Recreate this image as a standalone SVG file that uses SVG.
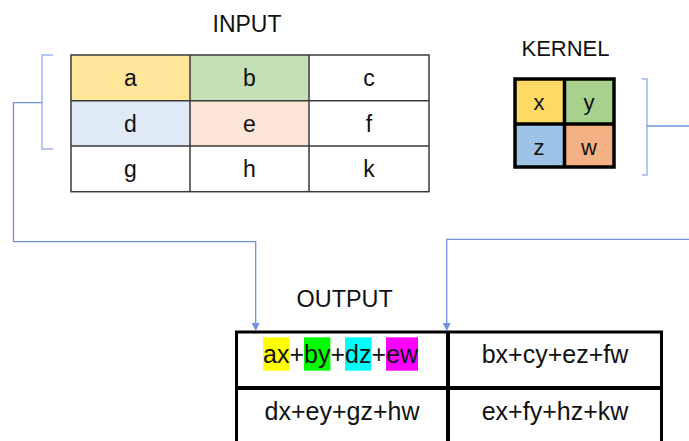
<svg xmlns="http://www.w3.org/2000/svg" width="689" height="441" viewBox="0 0 689 441">
  <style>
    .t { font-family: "Liberation Sans", Arial, sans-serif; fill: #111; text-anchor: middle; }
    .cell { font-size: 23px; }
    .title { font-size: 23px; }
    .grid { fill: none; stroke: #3a3a3a; stroke-width: 1.5; }
    .thick { fill: none; stroke: #000; stroke-width: 3.5; }
    .conn { fill: none; stroke: #6f92d8; stroke-width: 1.3; }
    .brace { fill: none; stroke: #9fb8e8; stroke-width: 1.5; }
  </style>
  <defs>
    <marker id="arrow" markerUnits="userSpaceOnUse" markerWidth="10" markerHeight="10" refX="8" refY="5" orient="auto">
      <path d="M0,1 L8,5 L0,9 Z" fill="#6f92d8"/>
    </marker>
  </defs>

  <rect width="689" height="441" fill="#fff"/>

  <!-- titles -->
  <text class="t title" x="247" y="32">INPUT</text>
  <text class="t title" x="565.5" y="56" style="font-size:22px">KERNEL</text>
  <text class="t title" x="344.7" y="306.5" style="font-size:23.4px">OUTPUT</text>

  <!-- input matrix -->
  <g id="input">
    <rect x="71" y="55" width="119" height="45.7" fill="#ffe699"/>
    <rect x="190" y="55" width="119" height="45.7" fill="#c5e0b4"/>
    <rect x="71" y="100.7" width="119" height="45.3" fill="#deebf7"/>
    <rect x="190" y="100.7" width="119" height="45.3" fill="#fbe5d6"/>
    <rect class="grid" x="71" y="55" width="358" height="136.7"/>
    <path class="grid" d="M190,55 V191.7 M309,55 V191.7 M71,100.7 H429 M71,146 H429"/>
    <text class="t cell" x="130.5" y="86">a</text>
    <text class="t cell" x="249.5" y="86">b</text>
    <text class="t cell" x="369" y="86">c</text>
    <text class="t cell" x="130.5" y="132">d</text>
    <text class="t cell" x="249.5" y="132">e</text>
    <text class="t cell" x="369" y="132">f</text>
    <text class="t cell" x="130.5" y="177">g</text>
    <text class="t cell" x="249.5" y="177">h</text>
    <text class="t cell" x="369" y="177">k</text>
  </g>

  <!-- kernel -->
  <g id="kernel">
    <rect x="515" y="79" width="49.5" height="45" fill="#ffd966"/>
    <rect x="564.5" y="79" width="49.5" height="45" fill="#a9d18e"/>
    <rect x="515" y="124" width="49.5" height="43" fill="#9dc3e6"/>
    <rect x="564.5" y="124" width="49.5" height="43" fill="#f4b183"/>
    <rect class="thick" x="515" y="79" width="99" height="88"/>
    <path class="thick" d="M564.5,79 V167 M515,124 H614"/>
    <text class="t cell" x="539" y="110" style="font-size:22px">x</text>
    <text class="t cell" x="589" y="110" style="font-size:22px">y</text>
    <text class="t cell" x="539" y="155" style="font-size:22px">z</text>
    <text class="t cell" x="589" y="155" style="font-size:22px">w</text>
  </g>

  <!-- output matrix -->
  <g id="output">
    <rect x="263" y="337.3" width="26.4" height="33.4" fill="#ffff00"/>
    <rect x="304" y="337.3" width="26.4" height="33.4" fill="#00ff00"/>
    <rect x="345" y="337.3" width="26.4" height="33.4" fill="#00ffff"/>
    <rect x="386" y="337.3" width="32" height="33.4" fill="#ff00ff"/>
    <rect class="thick" x="236.5" y="332" width="425" height="140" style="stroke-width:3"/>
    <path class="thick" d="M448,332 V441 M236.5,388 H661.5" style="stroke-width:4"/>
    <text class="t" x="263" y="363" style="font-size:25px;text-anchor:start">ax+by+dz+ew</text>
    <text class="t" x="555" y="363" style="font-size:25px">bx+cy+ez+fw</text>
    <text class="t" x="342" y="420" style="font-size:25px">dx+ey+gz+hw</text>
    <text class="t" x="555" y="420" style="font-size:25px">ex+fy+hz+kw</text>
  </g>

  <!-- connectors -->
  <g id="connectors">
    <path class="brace" d="M53,55 H42 V149 H53"/>
    <path class="conn" d="M42,102.7 H13.5 V241.7 H255.7 V331"  marker-end="url(#arrow)"/>
    <path class="brace" d="M642,79 H647 V175 H642"/>
    <path class="conn" d="M647,126 H689"/>
    <path class="conn" d="M689,239.3 H446.7 V331" marker-end="url(#arrow)"/>
  </g>
</svg>
